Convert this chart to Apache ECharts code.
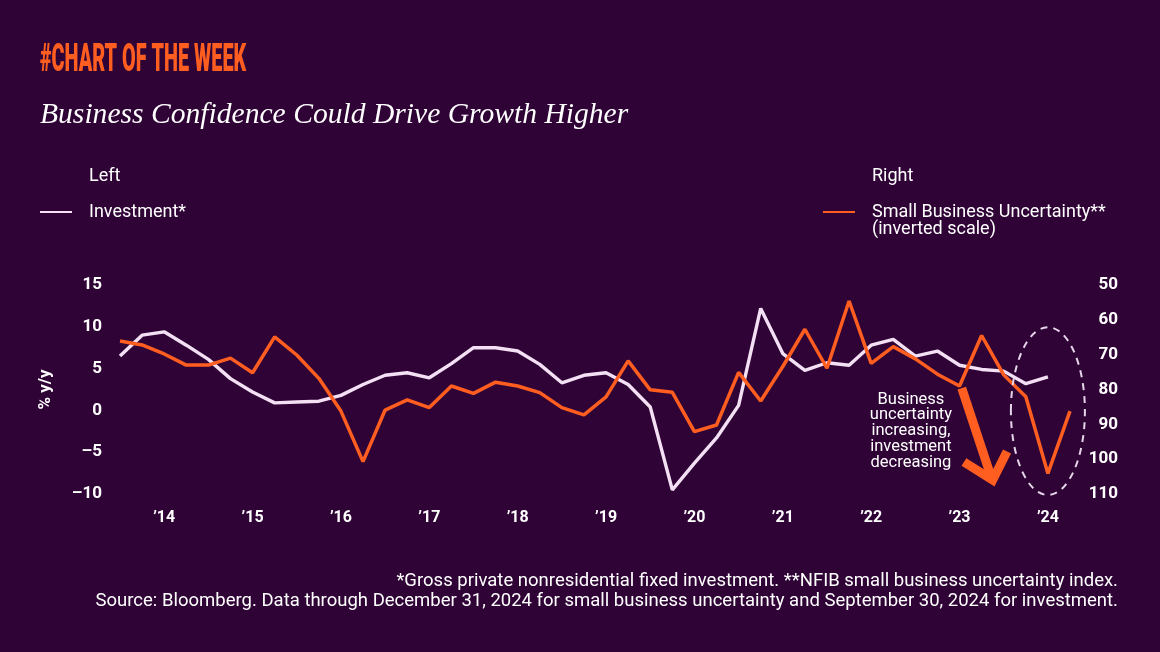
<!DOCTYPE html>
<html><head><meta charset="utf-8">
<script src="https://cdn.jsdelivr.net/npm/echarts@6/dist/echarts.min.js"></script>
<style>html,body{margin:0;padding:0;background:#2f0336;} #c{width:1160px;height:652px;}</style>
</head><body><div id="c"></div>
<script>
// ---- data ----
const quarters = [
 "2014Q1","2014Q2","2014Q3","2014Q4","2015Q1","2015Q2","2015Q3","2015Q4",
 "2016Q1","2016Q2","2016Q3","2016Q4","2017Q1","2017Q2","2017Q3","2017Q4",
 "2018Q1","2018Q2","2018Q3","2018Q4","2019Q1","2019Q2","2019Q3","2019Q4",
 "2020Q1","2020Q2","2020Q3","2020Q4","2021Q1","2021Q2","2021Q3","2021Q4",
 "2022Q1","2022Q2","2022Q3","2022Q4","2023Q1","2023Q2","2023Q3","2023Q4",
 "2024Q1","2024Q2","2024Q3","2024Q4"];
const investment = [
 6.5, 9.0, 9.4, 7.8,  6.1, 3.8, 2.2, 0.9,
 1.0, 1.1, 1.8, 3.1,  4.2, 4.5, 3.9, 5.6,
 7.5, 7.5, 7.1, 5.5,  3.3, 4.2, 4.5, 3.1,
 0.4, -9.5, -6.3, -3.3, 0.6, 12.2, 6.8, 4.8,
 5.7, 5.4, 7.8, 8.5,  6.5, 7.1, 5.4, 4.9,
 4.7, 3.2, 4.0, null];
const uncertainty = [
 66.1, 67.2, 69.8, 73.0, 73.0, 71.0, 75.2, 64.9,
 70.1, 76.8, 86.2, 100.7, 85.9, 83.0, 85.2, 79.0,
 81.1, 77.9, 79.0, 80.9, 85.2, 87.3, 82.1, 71.8,
 80.1, 80.8, 92.1, 90.2, 75.1, 83.3, 73.4, 62.7,
 73.9, 54.6, 72.5, 67.7, 71.2, 75.6, 79.0, 64.5,
 75.8, 82.1, 104.1, 86.2];
const yearLabels = ["’14","’15","’16","’17","’18","’19","’20","’21","’22","’23","’24"];
const leftAxis = {min: -10, max: 15, interval: 5};
const rightAxis = {min: 50, max: 110, interval: 10};
const seriesNames = ["Investment*", "Small Business Uncertainty**"];
const annotationLines = ["Business", "uncertainty", "increasing,", "investment", "decreasing"];

// ---- style ----
const BG = '#2f0336', ORANGE = '#ff5e20', LILAC = '#f3e0f4', WHITE = '#ffffff';
const SANS = 'Roboto, "Noto Sans", sans-serif';

const chart = echarts.init(document.getElementById('c'), null, {renderer: 'canvas'});
const legendText = {color: WHITE, fontSize: 18, fontFamily: SANS, padding: [0,0,0,12]};
const option = {
  backgroundColor: BG,
  animation: false,
  grid: {left: 120, right: 90, top: 285, bottom: 158},
  legend: [
    {left: 40, top: 203, padding: 0, data: [seriesNames[0]], icon: 'rect', itemWidth: 32, itemHeight: 2,
     textStyle: legendText, selectedMode: false},
    {left: 823, top: 203, padding: 0, data: [seriesNames[1]], icon: 'rect', itemWidth: 32, itemHeight: 2,
     textStyle: legendText, selectedMode: false}
  ],
  xAxis: {
    type: 'category', data: quarters, boundaryGap: false,
    axisLine: {show: false}, axisTick: {show: false}, splitLine: {show: false},
    axisLabel: {
      color: WHITE, fontSize: 16, fontWeight: 'bold', fontFamily: SANS, margin: 16,
      interval: function (i) { return i % 4 === 2; },
      formatter: function (v, i) { return yearLabels[Math.floor(i / 4)]; }
    }
  },
  yAxis: [
    {type: 'value', min: leftAxis.min, max: leftAxis.max, interval: leftAxis.interval,
     name: '% y/y', nameLocation: 'middle', nameGap: 66, nameRotate: 90,
     nameTextStyle: {color: WHITE, fontSize: 17, fontWeight: 'bold', fontFamily: SANS},
     axisLine: {show: false}, axisTick: {show: false}, splitLine: {show: false},
     axisLabel: {color: WHITE, fontSize: 17, fontWeight: 'bold', fontFamily: SANS, margin: 18,
       formatter: function (v) { return String(v).replace('-', '\u2013'); }}},
    {type: 'value', min: rightAxis.min, max: rightAxis.max, interval: rightAxis.interval, inverse: true,
     position: 'right',
     axisLine: {show: false}, axisTick: {show: false}, splitLine: {show: false},
     axisLabel: {color: WHITE, fontSize: 17, fontWeight: 'bold', fontFamily: SANS, margin: 48, align: 'right'}}
  ],
  series: [
    {name: seriesNames[0], type: 'line', data: investment, yAxisIndex: 0, showSymbol: false,
     lineStyle: {color: LILAC, width: 3.4}, itemStyle: {color: LILAC}, z: 2},
    {name: seriesNames[1], type: 'line', data: uncertainty, yAxisIndex: 1, showSymbol: false,
     lineStyle: {color: ORANGE, width: 3.5}, itemStyle: {color: ORANGE}, z: 3}
  ]
};
chart.setOption(option);

// helpers mapping data coordinates (fractional quarter index, right-axis value) to pixels
function px(idx) {
  const a = Math.floor(idx), b = Math.min(a + 1, quarters.length - 1);
  const pa = chart.convertToPixel({xAxisIndex: 0}, quarters[a]);
  const pb = chart.convertToPixel({xAxisIndex: 0}, quarters[b]);
  return pa + (pb - pa) * (idx - a);
}
function py(v) { return chart.convertToPixel({yAxisIndex: 1}, v); }

const graphics = [
  {type: 'text', x: 40, y: 61, scaleX: 0.522, style: {text: '#CHART OF THE WEEK', fill: ORANGE,
    font: '900 38px Roboto, "DejaVu Sans", sans-serif', textVerticalAlign: 'middle'}},
  {type: 'text', x: 40, y: 115, style: {text: 'Business Confidence Could Drive Growth Higher', fill: WHITE,
    font: 'italic 29.6px "Liberation Serif", "DejaVu Serif", serif', textVerticalAlign: 'middle'}},
  {type: 'text', x: 89, y: 176, style: {text: 'Left', fill: WHITE, font: '18px ' + SANS, textVerticalAlign: 'middle'}},
  {type: 'text', x: 872, y: 176, style: {text: 'Right', fill: WHITE, font: '18px ' + SANS, textVerticalAlign: 'middle'}},
  {type: 'text', x: 872, y: 229, style: {text: '(inverted scale)', fill: WHITE, font: '18px ' + SANS, textVerticalAlign: 'middle'}},
  {type: 'text', x: 1118, y: 581, scaleX: 1.028, style: {text: '*Gross private nonresidential fixed investment. **NFIB small business uncertainty index.',
    fill: WHITE, font: '18px ' + SANS, textAlign: 'right', textVerticalAlign: 'middle'}},
  {type: 'text', x: 1118, y: 601, scaleX: 1.028, style: {text: 'Source: Bloomberg. Data through December 31, 2024 for small business uncertainty and September 30, 2024 for investment.',
    fill: WHITE, font: '18px ' + SANS, textAlign: 'right', textVerticalAlign: 'middle'}},
  // dashed ellipse around last quarters
  {type: 'ellipse', shape: {cx: px(42), cy: py(86.2), rx: 37, ry: py(110) - py(86.2) + 1},
   style: {fill: null, stroke: '#e6d6ea', lineWidth: 2, lineDash: [7, 6]}, z: 10},
  // arrow shaft and head
  {type: 'polyline', shape: {points: [[px(38.1), py(79.6)], [px(39.4), py(104.5)]]},
   style: {stroke: ORANGE, lineWidth: 9, fill: null}, z: 10},
  {type: 'polyline', shape: {points: [[px(38.2), py(100.8)], [px(39.5), py(106.0)], [px(40.15), py(97.8)]]},
   style: {stroke: ORANGE, lineWidth: 9, fill: null, lineJoin: 'miter'}, z: 10},
  {type: 'text', x: px(35.8), y: py(80.6), style: {text: annotationLines.join('\n'), fill: WHITE,
    font: '16.5px ' + SANS, textAlign: 'center', lineHeight: 15.8}, z: 10}
];
chart.setOption({graphic: graphics});
</script></body></html>
